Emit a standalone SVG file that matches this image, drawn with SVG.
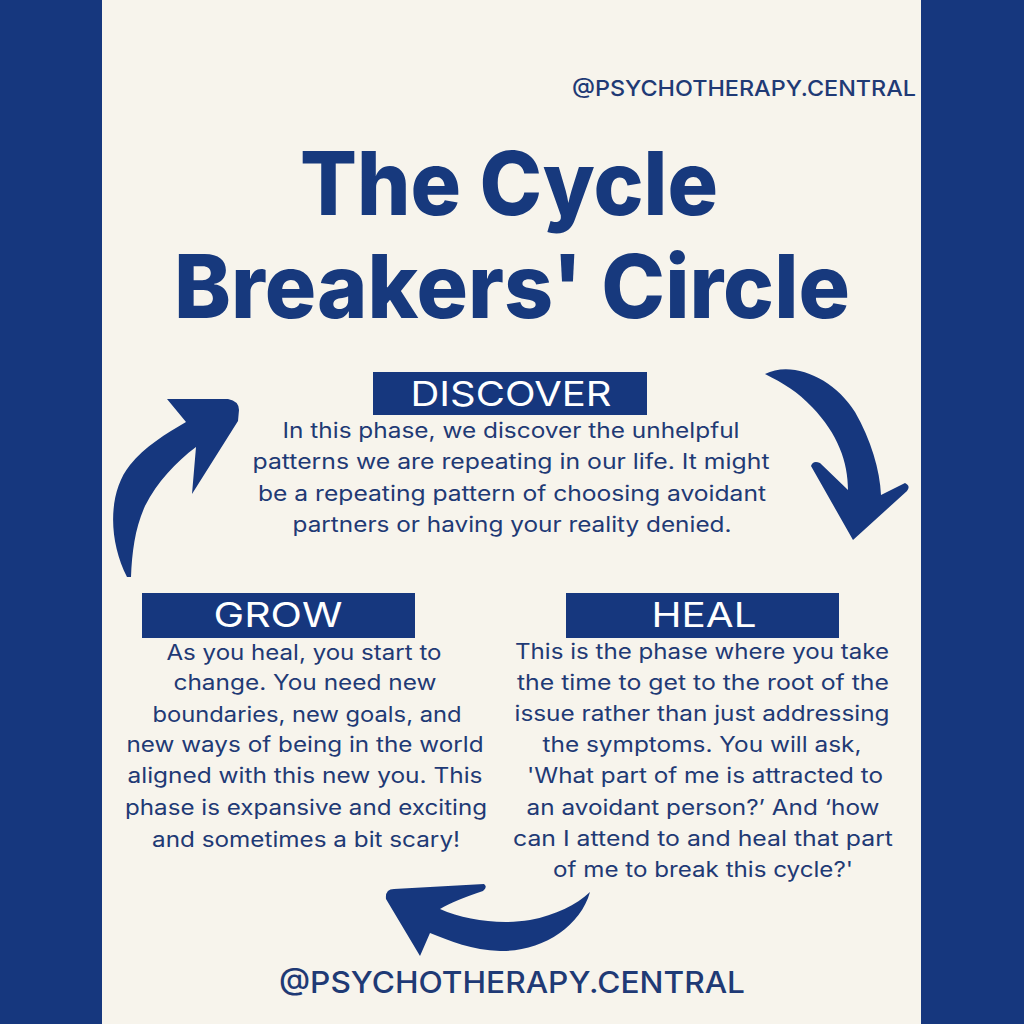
<svg xmlns="http://www.w3.org/2000/svg" width="1024" height="1024" viewBox="0 0 1024 1024">
<style>
.bar{fill:#16377e}
.box{fill:#16377e}
.arrow{fill:#16377e}
.title{font-family:Inter,"DejaVu Sans",sans-serif;font-weight:800;font-size:88px;fill:#17397d;text-anchor:middle}
.head{font-family:Inter,"DejaVu Sans",sans-serif;font-weight:400;font-size:34px;fill:#ffffff;text-anchor:middle}
.body{font-family:Inter,"DejaVu Sans",sans-serif;font-weight:400;font-size:21px;fill:#1f3a75;text-anchor:middle}
.handle{font-family:Inter,"DejaVu Sans",sans-serif;font-weight:500;fill:#1f3a75;text-anchor:middle}
</style>
<rect x="0" y="0" width="1024" height="1024" fill="#f7f4ec"/>
<rect class="bar" x="0" y="0" width="102" height="1024"/>
<rect class="bar" x="921" y="0" width="103" height="1024"/>

<g id="handle-top">
<text class="handle" x="744" y="96" font-size="22" textLength="344" lengthAdjust="spacingAndGlyphs">@PSYCHOTHERAPY.CENTRAL</text>
</g>

<g id="title">
<text class="title" x="509" y="215" textLength="418" lengthAdjust="spacingAndGlyphs">The Cycle</text>
<text class="title" x="512" y="318" textLength="676" lengthAdjust="spacingAndGlyphs">Breakers' Circle</text>
</g>

<g id="discover">
<rect class="box" x="373" y="372" width="274" height="43"/>
<text class="head" x="511" y="406" textLength="201" lengthAdjust="spacingAndGlyphs">DISCOVER</text>
<text class="body" x="511" y="438" textLength="457" lengthAdjust="spacingAndGlyphs">In this phase, we discover the unhelpful</text>
<text class="body" x="511" y="469" textLength="517" lengthAdjust="spacingAndGlyphs">patterns we are repeating in our life. It might</text>
<text class="body" x="512" y="501" textLength="508" lengthAdjust="spacingAndGlyphs">be a repeating pattern of choosing avoidant</text>
<text class="body" x="512" y="532" textLength="439" lengthAdjust="spacingAndGlyphs">partners or having your reality denied.</text>
</g>

<g id="grow">
<rect class="box" x="142" y="593" width="273" height="45"/>
<text class="head" x="278" y="627" textLength="129" lengthAdjust="spacingAndGlyphs">GROW</text>
<text class="body" x="304" y="660" textLength="275" lengthAdjust="spacingAndGlyphs">As you heal, you start to</text>
<text class="body" x="305" y="690" textLength="263" lengthAdjust="spacingAndGlyphs">change. You need new</text>
<text class="body" x="307" y="722" textLength="309" lengthAdjust="spacingAndGlyphs">boundaries, new goals, and</text>
<text class="body" x="305" y="752" textLength="357" lengthAdjust="spacingAndGlyphs">new ways of being in the world</text>
<text class="body" x="305" y="783" textLength="355" lengthAdjust="spacingAndGlyphs">aligned with this new you. This</text>
<text class="body" x="306" y="815" textLength="362" lengthAdjust="spacingAndGlyphs">phase is expansive and exciting</text>
<text class="body" x="306" y="847" textLength="308" lengthAdjust="spacingAndGlyphs">and sometimes a bit scary!</text>
</g>

<g id="heal">
<rect class="box" x="566" y="593" width="273" height="45"/>
<text class="head" x="704" y="627" textLength="105" lengthAdjust="spacingAndGlyphs">HEAL</text>
<text class="body" x="702" y="659" textLength="374" lengthAdjust="spacingAndGlyphs">This is the phase where you take</text>
<text class="body" x="703" y="690" textLength="372" lengthAdjust="spacingAndGlyphs">the time to get to the root of the</text>
<text class="body" x="702" y="721" textLength="375" lengthAdjust="spacingAndGlyphs">issue rather than just addressing</text>
<text class="body" x="702" y="752" textLength="319" lengthAdjust="spacingAndGlyphs">the symptoms. You will ask,</text>
<text class="body" x="705" y="783" textLength="356" lengthAdjust="spacingAndGlyphs">'What part of me is attracted to</text>
<text class="body" x="703" y="815" textLength="353" lengthAdjust="spacingAndGlyphs">an avoidant person?’ And ‘how</text>
<text class="body" x="703" y="846" textLength="380" lengthAdjust="spacingAndGlyphs">can I attend to and heal that part</text>
<text class="body" x="703" y="877" textLength="300" lengthAdjust="spacingAndGlyphs">of me to break this cycle?'</text>
</g>

<g id="connectors">
<path id="arrow-discover-heal" class="arrow" d="M765,374 C792,360 834,378 855,412 C871,440 880,470 881,495 L905,483 Q911,486 907,491 L853,540 L811,466 Q813,460 820,463 L848,490 C848,462 838,434 812,407 C798,392 783,383 765,374 Z"/>
<path id="arrow-heal-grow" class="arrow" d="M590,892 C580,928 540,952 500,951 C472,950 450,941 430,933 L420,956 L386,899 Q385,889 394,889 L484,884 Q488,887 483,891 C465,897 450,903 440,909 C465,920 500,925 530,920 C556,915 576,905 590,892 Z"/>
<path id="arrow-grow-discover" class="arrow" d="M127,577 C108,540 108,492 130,465 C145,446 166,434 186,422 L167,399 L228,399 Q239,401 239,410 L238,421 L192,494 L196,447 C176,462 157,482 145,506 C135,528 132,552 131,577 Z"/>
</g>

<g id="handle-bottom">
<text class="handle" x="512" y="993" font-size="30" textLength="466" lengthAdjust="spacingAndGlyphs">@PSYCHOTHERAPY.CENTRAL</text>
</g>
</svg>
